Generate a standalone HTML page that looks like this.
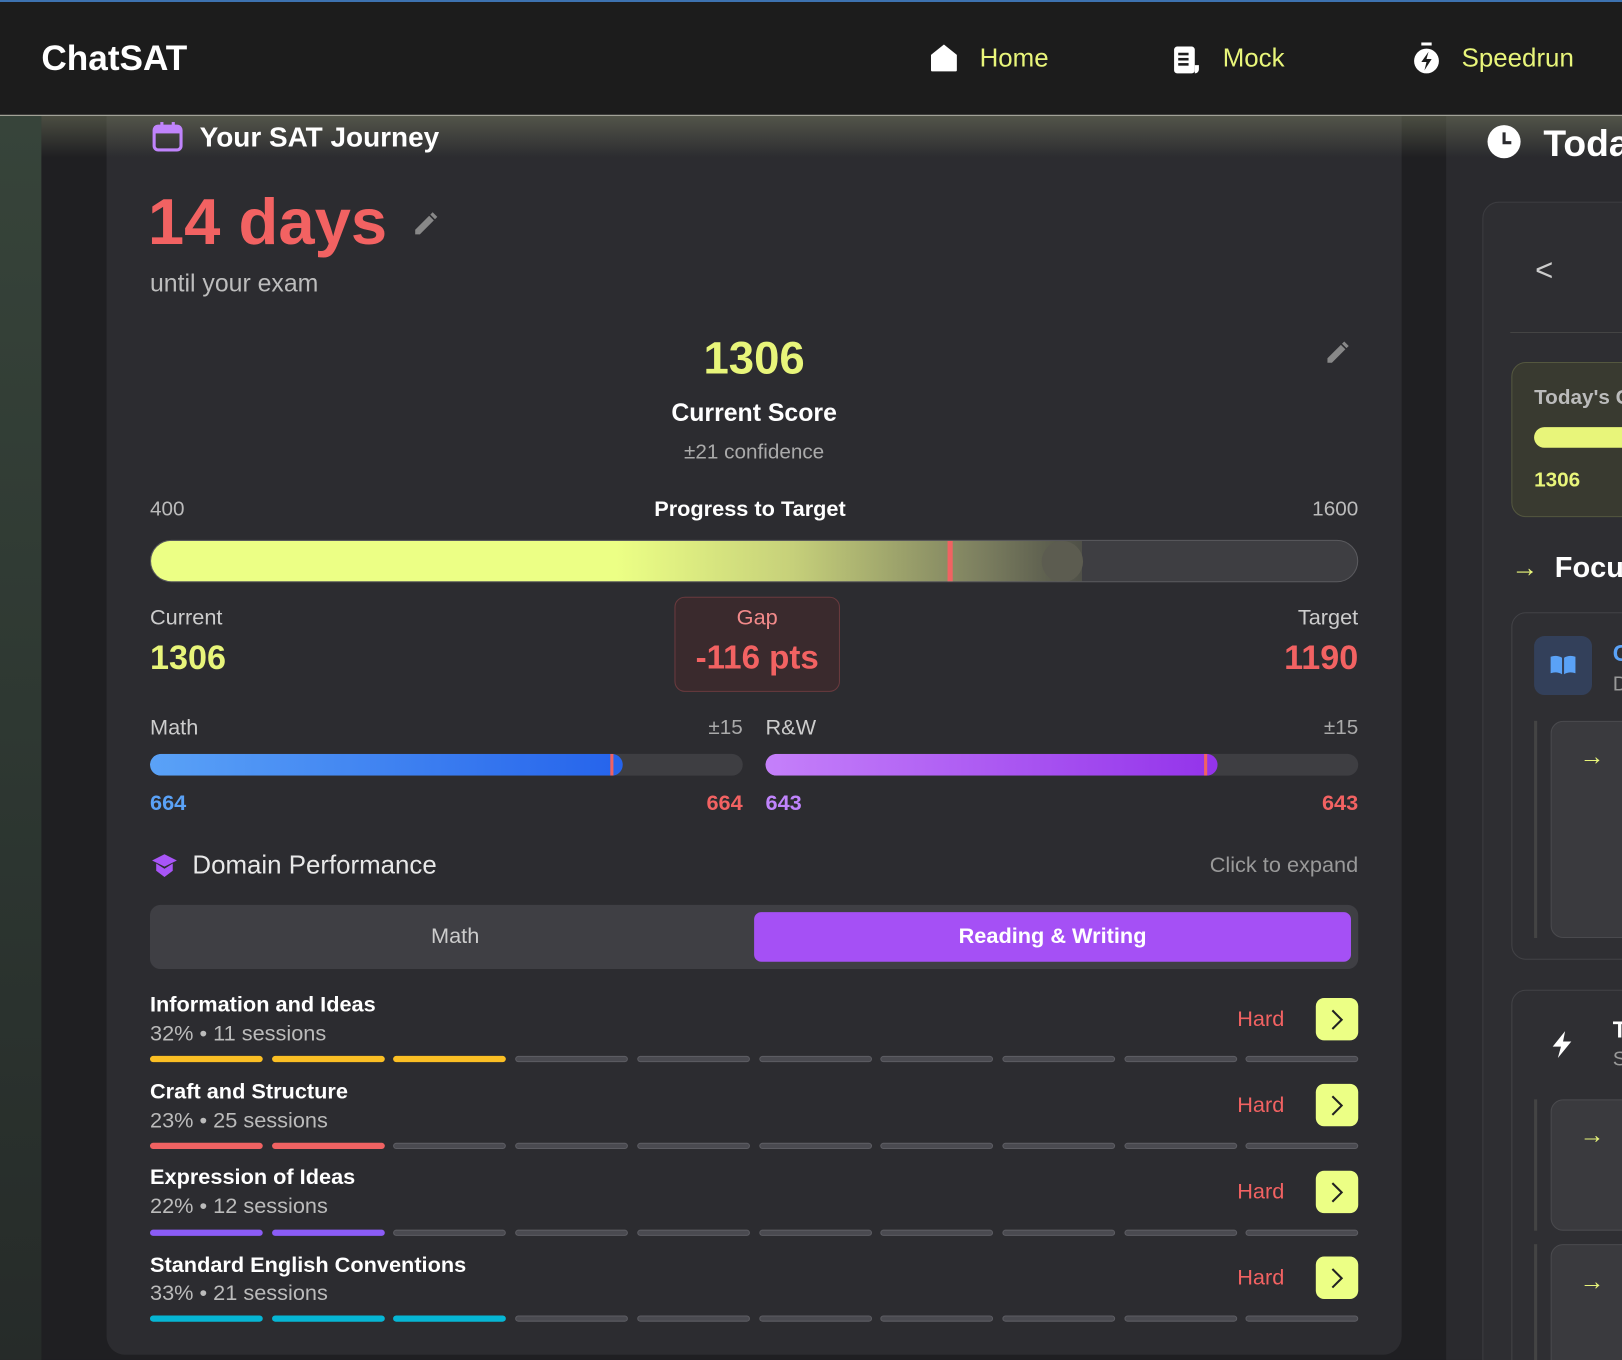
<!DOCTYPE html>
<html><head><meta charset="utf-8"><style>
*{margin:0;padding:0;box-sizing:border-box}
html,body{width:1622px;height:1360px;overflow:hidden;background:#1f1f22;font-family:"Liberation Sans",sans-serif}
#w{position:absolute;left:0;top:0;width:1568px;height:1315px;transform:scale(1.03444,1.0342);transform-origin:0 0;overflow:hidden;background:#1f1f22}
.a{position:absolute;white-space:nowrap}
.c{transform:translateY(-50%)}
.seg{position:absolute;height:6px;border-radius:3px;background:#4a4a50;border:1px solid #5c5c62}
</style></head><body><div id="w">
<div class="a" style="left:0;top:112px;width:40px;height:1203px;background:linear-gradient(180deg,#37443a,#2c3530 60%,#262b29)"></div>
<div class="a" style="left:103px;top:112px;width:1252px;height:1198px;background:#2c2c30;border-radius:0 0 18px 18px"></div>
<div class="a" style="left:1398px;top:112px;width:170px;height:1203px;background:#2a2a2e"></div>
<div class="a" style="left:40px;top:112px;width:1528px;height:40px;background:linear-gradient(180deg,rgba(130,135,105,.45),rgba(60,60,50,0))"></div>
<div class="a" style="left:0;top:0;width:1568px;height:2px;background:#3d72b0"></div>
<div class="a" style="left:0;top:2px;width:1568px;height:110px;background:#1c1c1c;border-bottom:1px solid #bdbdb0"></div>
<div class="a c" style="left:40px;top:57px;font-size:34px;font-weight:bold;color:#fff">ChatSAT</div>
<svg class="a" style="left:899px;top:42px" width="27" height="28" viewBox="0 0 27 28"><path d="M1 11 L13.5 1 L26 11 V26 a1 1 0 0 1-1 1 H2 a1 1 0 0 1-1-1Z" fill="#fff"/></svg>
<div class="a c" style="left:947px;top:57px;font-size:25px;color:#e8f57a">Home</div>
<svg class="a" style="left:1134px;top:44px" width="28" height="28" viewBox="0 0 28 28"><rect x="1" y="1" width="20" height="26" rx="3" fill="#fff"/><rect x="5" y="7" width="10" height="2.5" fill="#1c1c1c"/><rect x="5" y="12" width="10" height="2.5" fill="#1c1c1c"/><rect x="5" y="17" width="10" height="2.5" fill="#1c1c1c"/><path d="M21 19 h4 v4 a4 4 0 0 1-4 4Z" fill="#fff"/></svg>
<div class="a c" style="left:1182px;top:57px;font-size:25px;color:#e8f57a">Mock</div>
<svg class="a" style="left:1366px;top:41px" width="26" height="32" viewBox="0 0 26 32"><rect x="8" y="0" width="10" height="3" fill="#fff"/><circle cx="13" cy="18" r="12" fill="#fff"/><path d="M15 9 L8 19 H13 L11 27 L18 16 H13Z" fill="#1c1c1c"/></svg>
<div class="a c" style="left:1413px;top:57px;font-size:25px;color:#e8f57a">Speedrun</div>
<svg class="a" style="left:147px;top:117px" width="30" height="30" viewBox="0 0 30 30"><rect x="2" y="5" width="26" height="23" rx="4" fill="none" stroke="#c084fc" stroke-width="3"/><rect x="2" y="5" width="26" height="7" fill="#c084fc"/><rect x="8" y="1" width="3" height="6" fill="#c084fc"/><rect x="19" y="1" width="3" height="6" fill="#c084fc"/></svg>
<div class="a c" style="left:193px;top:133px;font-size:27px;font-weight:bold;color:#fff">Your SAT Journey</div>
<div class="a c" style="left:143px;top:215px;font-size:63px;font-weight:bold;color:#f26262">14 days</div>
<svg class="a" style="left:398px;top:203px" width="27" height="27" viewBox="0 0 24 24"><path d="M3 21 L3 17 L15 5 L19 9 L7 21Z M16 4 L18 2 L22 6 L20 8Z" fill="#888"/></svg>
<div class="a c" style="left:145px;top:275px;font-size:24px;color:#bdbdbd">until your exam</div>
<div class="a c" style="left:629px;width:200px;text-align:center;top:347px;font-size:44px;font-weight:bold;color:#e8f57a">1306</div>
<div class="a c" style="left:579px;width:300px;text-align:center;top:400px;font-size:24px;font-weight:bold;color:#fff">Current Score</div>
<div class="a c" style="left:579px;width:300px;text-align:center;top:438px;font-size:20px;color:#aaa">±21 confidence</div>
<svg class="a" style="left:1280px;top:328px" width="26" height="26" viewBox="0 0 24 24"><path d="M3 21 L3 17 L15 5 L19 9 L7 21Z M16 4 L18 2 L22 6 L20 8Z" fill="#888"/></svg>
<div class="a c" style="left:145px;top:493px;font-size:20px;color:#bbb">400</div>
<div class="a c" style="left:575px;width:300px;text-align:center;top:493px;font-size:21px;font-weight:bold;color:#fff">Progress to Target</div>
<div class="a c" style="left:1213px;width:100px;text-align:right;top:493px;font-size:20px;color:#bbb">1600</div>
<div class="a" style="left:145px;top:522px;width:1168px;height:41px;border-radius:21px;background:#3e3e42;border:1px solid #5a5a5e;overflow:hidden">
 <div class="a" style="left:0;top:0;width:900px;height:41px;background:linear-gradient(90deg,#ecff85 0,#ecff85 450px,#c6d07a 620px,#7d8060 800px,rgba(90,92,75,.6) 900px)"></div>
 <div class="a" style="left:770px;top:0;width:5px;height:41px;background:#f06262"></div>
 <div class="a" style="left:861px;top:0;width:40px;height:40px;border-radius:50%;background:#5c5c50"></div>
</div>
<div class="a c" style="left:145px;top:598px;font-size:21px;color:#ccc">Current</div>
<div class="a c" style="left:145px;top:636px;font-size:33px;font-weight:bold;color:#e8f57a">1306</div>
<div class="a" style="left:652px;top:577px;width:160px;height:92px;border-radius:10px;background:#3a2a2d;border:1px solid #6a3a3e"></div>
<div class="a c" style="left:652px;width:160px;text-align:center;top:598px;font-size:21px;color:#f28a8a">Gap</div>
<div class="a c" style="left:652px;width:160px;text-align:center;top:636px;font-size:32px;font-weight:bold;color:#f26262">-116 pts</div>
<div class="a c" style="left:1113px;width:200px;text-align:right;top:598px;font-size:21px;color:#ccc">Target</div>
<div class="a c" style="left:1113px;width:200px;text-align:right;top:636px;font-size:33px;font-weight:bold;color:#f26262">1190</div>
<div class="a c" style="left:145px;top:704px;font-size:21px;color:#ccc">Math</div>
<div class="a c" style="left:618px;width:100px;text-align:right;top:704px;font-size:20px;color:#aaa">±15</div>
<div class="a c" style="left:740px;top:704px;font-size:21px;color:#ccc">R&amp;W</div>
<div class="a c" style="left:1213px;width:100px;text-align:right;top:704px;font-size:20px;color:#aaa">±15</div>
<div class="a" style="left:145px;top:729px;width:573px;height:21px;border-radius:11px;background:#3e3e42;overflow:hidden"><div class="a" style="left:0;top:0;width:457px;height:21px;border-radius:11px;background:linear-gradient(90deg,#5aa2f7,#2563eb)"></div><div class="a" style="left:445px;top:0;width:3px;height:21px;background:#f06262"></div></div>
<div class="a" style="left:740px;top:729px;width:573px;height:21px;border-radius:11px;background:#3e3e42;overflow:hidden"><div class="a" style="left:0;top:0;width:437px;height:21px;border-radius:11px;background:linear-gradient(90deg,#c580fa,#9333ea)"></div><div class="a" style="left:424px;top:0;width:3px;height:21px;background:#f06262"></div></div>
<div class="a c" style="left:145px;top:777px;font-size:21px;font-weight:bold;color:#5aa2f7">664</div>
<div class="a c" style="left:618px;width:100px;text-align:right;top:777px;font-size:21px;font-weight:bold;color:#f26262">664</div>
<div class="a c" style="left:740px;top:777px;font-size:21px;font-weight:bold;color:#c084fc">643</div>
<div class="a c" style="left:1213px;width:100px;text-align:right;top:777px;font-size:21px;font-weight:bold;color:#f26262">643</div>
<svg class="a" style="left:146px;top:825px" width="26" height="24" viewBox="0 0 26 24"><path d="M13 1 L25 7 L13 13 L1 7Z" fill="#a855f7"/><path d="M5 10 V17 L13 23 L21 17 V10 L13 15Z" fill="#a855f7"/></svg>
<div class="a c" style="left:186px;top:837px;font-size:25px;color:#e8e8e8">Domain Performance</div>
<div class="a c" style="left:1113px;width:200px;text-align:right;top:837px;font-size:21px;color:#999">Click to expand</div>
<div class="a" style="left:145px;top:875px;width:1168px;height:62px;border-radius:10px;background:#3f3f44"></div>
<div class="a c" style="left:340px;width:200px;text-align:center;top:906px;font-size:21px;color:#ccc">Math</div>
<div class="a" style="left:729px;top:882px;width:577px;height:48px;border-radius:7px;background:#a550f5"></div>
<div class="a c" style="left:729px;width:577px;text-align:center;top:906px;font-size:21px;font-weight:bold;color:#fff">Reading &amp; Writing</div>
<div id="rows"></div>
<svg class="a" style="left:1437px;top:120px" width="34" height="34" viewBox="0 0 34 34"><circle cx="17" cy="17" r="16" fill="#fff"/><path d="M17 8 V18 H24" stroke="#2a2a2e" stroke-width="3" fill="none"/></svg>
<div class="a c" style="left:1492px;top:139px;font-size:36px;font-weight:bold;color:#fff">Today's</div>
<div class="a" style="left:1433px;top:195px;width:200px;height:1150px;border-radius:16px;background:#2e2e32;border:1px solid #3c3c40"></div>
<div class="a c" style="left:1484px;top:262px;font-size:30px;color:#ccc">&lt;</div>
<div class="a" style="left:1460px;top:321px;width:120px;height:1px;background:#444"></div>
<div class="a" style="left:1461px;top:350px;width:140px;height:150px;border-radius:14px;background:#393a30;border:1px solid #54573f"></div>
<div class="a c" style="left:1483px;top:385px;font-size:20px;font-weight:bold;color:#bbb">Today's Goal</div>
<div class="a" style="left:1483px;top:413px;width:120px;height:20px;border-radius:10px;background:#e8f57a"></div>
<div class="a c" style="left:1483px;top:465px;font-size:20px;font-weight:bold;color:#e8f57a">1306</div>
<div class="a c" style="left:1461px;top:549px;font-size:26px;color:#e8f57a">→</div>
<div class="a c" style="left:1503px;top:549px;font-size:28px;font-weight:bold;color:#fff">Focus</div>
<div class="a" style="left:1461px;top:592px;width:140px;height:336px;border-radius:14px;background:#2f2f33;border:1px solid #424246"></div>
<div class="a" style="left:1483px;top:615px;width:56px;height:57px;border-radius:10px;background:#33405a"></div>
<svg class="a" style="left:1498px;top:633px" width="26" height="20" viewBox="0 0 26 20"><path d="M1 2 Q7 0 12 3 V19 Q7 16 1 18Z M14 3 Q19 0 25 2 V18 Q19 16 14 19Z" fill="#5aa2f7"/></svg>
<div class="a c" style="left:1559px;top:632px;font-size:22px;font-weight:bold;color:#5aa2f7">C</div>
<div class="a c" style="left:1559px;top:662px;font-size:20px;color:#999">D</div>
<div class="a" style="left:1483px;top:697px;width:3px;height:210px;background:#444"></div>
<div class="a" style="left:1499px;top:697px;width:120px;height:210px;border-radius:12px;background:#3a3a3e;border:1px solid #4a4a4e"></div>
<div class="a c" style="left:1527px;top:732px;font-size:24px;color:#e8f57a">→</div>
<div class="a" style="left:1461px;top:957px;width:140px;height:400px;border-radius:14px;background:#2f2f33;border:1px solid #424246"></div>
<svg class="a" style="left:1498px;top:996px" width="24" height="28" viewBox="0 0 24 28"><path d="M15 1 L3 16 H11 L8 27 L21 11 H13Z" fill="#fff"/></svg>
<div class="a c" style="left:1559px;top:996px;font-size:22px;font-weight:bold;color:#fff">T</div>
<div class="a c" style="left:1559px;top:1025px;font-size:20px;color:#999">S</div>
<div class="a" style="left:1483px;top:1063px;width:3px;height:127px;background:#444"></div>
<div class="a" style="left:1499px;top:1063px;width:120px;height:127px;border-radius:12px;background:#3a3a3e;border:1px solid #4a4a4e"></div>
<div class="a c" style="left:1527px;top:1098px;font-size:24px;color:#e8f57a">→</div>
<div class="a" style="left:1483px;top:1203px;width:3px;height:120px;background:#444"></div>
<div class="a" style="left:1499px;top:1203px;width:120px;height:130px;border-radius:12px;background:#3a3a3e;border:1px solid #4a4a4e"></div>
<div class="a c" style="left:1527px;top:1240px;font-size:24px;color:#e8f57a">→</div>
<div class="a c" style="left:145px;top:972px;font-size:21px;font-weight:bold;color:#fff">Information and Ideas</div>
<div class="a c" style="left:145px;top:1000px;font-size:21px;color:#bbb">32% • 11 sessions</div>
<div class="a c" style="left:145px;top:1056px;font-size:21px;font-weight:bold;color:#fff">Craft and Structure</div>
<div class="a c" style="left:145px;top:1084px;font-size:21px;color:#bbb">23% • 25 sessions</div>
<div class="a c" style="left:145px;top:1139px;font-size:21px;font-weight:bold;color:#fff">Expression of Ideas</div>
<div class="a c" style="left:145px;top:1167px;font-size:21px;color:#bbb">22% • 12 sessions</div>
<div class="a c" style="left:145px;top:1224px;font-size:21px;font-weight:bold;color:#fff">Standard English Conventions</div>
<div class="a c" style="left:145px;top:1251px;font-size:21px;color:#bbb">33% • 21 sessions</div>
<script>
var rows=[[986,1024,'#fbbf24',3],[1069,1108,'#f06262',2],[1153,1192,'#8b5cf6',2],[1236,1275,'#06b6d4',3]];
var h='';
rows.forEach(function(r){
 h+='<div class="a c" style="left:1196px;top:'+r[0]+'px;font-size:21px;color:#f26262">Hard</div>';
 h+='<div class="a" style="left:1272px;top:'+(r[0]-21)+'px;width:41px;height:41px;border-radius:8px;background:#ecff85"></div>';
 h+='<svg class="a" style="left:1284px;top:'+(r[0]-11)+'px" width="16" height="22" viewBox="0 0 16 22"><path d="M4 2 L13 11 L4 20" stroke="#222" stroke-width="2" fill="none"/></svg>';
 for(var i=0;i<10;i++){var x=145+i*117.7;
  h+='<div class="seg" style="left:'+x+'px;top:'+(r[1]-3)+'px;width:109px;'+(i<r[3]?'background:'+r[2]+';border-color:'+r[2]:'')+'"></div>';}
});
document.getElementById('rows').innerHTML=h;
</script>
</div></body></html>
